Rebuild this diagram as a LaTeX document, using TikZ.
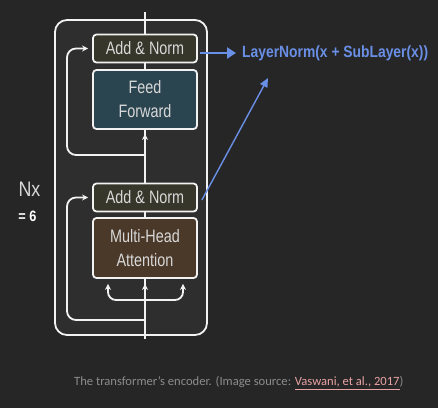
\documentclass[tikz,border=0pt]{standalone}
\usepackage{fontspec}
\usetikzlibrary{calc,arrows.meta}
\newfontfamily\labfont[FakeStretch=0.8]{Liberation Sans}
\newfontfamily\hdfont[FakeStretch=0.85]{Liberation Sans}
\newfontfamily\capfont{Carlito}
\definecolor{bgc}{HTML}{262626}
\definecolor{innerbg}{HTML}{2E2E2E}
\definecolor{wline}{HTML}{F2F2F2}
\definecolor{anfill}{HTML}{36362A}
\definecolor{fffill}{HTML}{2A4450}
\definecolor{mhafill}{HTML}{4A3828}
\definecolor{txtc}{HTML}{D8D8D8}
\definecolor{bluec}{HTML}{6A8FE6}
\definecolor{capgray}{HTML}{8C8C8C}
\definecolor{linkpink}{HTML}{E9A3A3}
\tikzset{
  boxbase/.style={draw=wline, line width=1.8pt, rounded corners=3.5pt, minimum width=104pt, text=txtc, align=center, inner sep=0pt, font=\labfont\fontsize{18}{24}\selectfont},
  anbox/.style={boxbase, fill=anfill, minimum height=28pt},
  ffbox/.style={boxbase, fill=fffill, minimum height=59pt},
  mhabox/.style={boxbase, fill=mhafill, minimum height=60pt},
  wl/.style={draw=wline, line width=1.8pt},
  warr/.style={wl, -{Stealth[length=6pt,width=6pt]}},
  barr/.style={draw=bluec, line width=2.6pt, -{Triangle[length=9pt,width=11pt]}},
  barrthin/.style={draw=bluec, line width=1.4pt, -{Triangle[length=9pt,width=8pt]}},
}
\begin{document}
\begin{tikzpicture}[x=1pt,y=-1pt]
\useasboundingbox (0,0) rectangle (438,408);
\fill[bgc] (0,0) rectangle (438,408);
% outer block
\draw[wl, fill=innerbg, rounded corners=12pt] (55,20) rectangle (207,335);
% main vertical line
\coordinate (vtop) at (145,12);
\coordinate (vbot) at (145,339);
\draw[wl] (vtop) -- (vbot);
% boxes
\node[anbox] (an1) at (145,48.5) {Add \& Norm};
\node[ffbox] (ff) at (145,99.5) {Feed\\Forward};
\node[anbox] (an2) at (145,197.5) {Add \& Norm};
\node[mhabox] (mha) at (145,248) {Multi-Head\\Attention};
% arrow into feed forward
\draw[warr] ($(ff.south)+(0,16)$) -- ($(ff.south)+(0,4)$);
% residual connections
\coordinate (r1s) at (145,155);
\draw[warr, rounded corners=9pt] (r1s) -- (67,155) -- (67,48.5) -- ($(an1.west)+(-4,0)$);
\coordinate (r2s) at (145,320);
\draw[warr, rounded corners=9pt] (r2s) -- (67,320) -- (67,197.5) -- ($(an2.west)+(-4,0)$);
% branch into multi-head attention
\coordinate (br) at (145,300);
\draw[warr, rounded corners=8pt] (br) -- (108,300) -- ($(mha.south)+(-37,5)$);
\draw[warr, rounded corners=8pt] (br) -- (183,300) -- ($(mha.south)+(38,5)$);
\draw[warr] ($(mha.south)+(0,16)$) -- ($(mha.south)+(0,5)$);
% labels left
\node[text=txtc, font=\hdfont\fontsize{21}{21}\selectfont, inner sep=0pt] (nx) at (29.5,189) {Nx};
\node[text=white, font=\hdfont\bfseries\fontsize{15}{15}\selectfont, inner sep=0pt] (eq) at (27.5,216) {= 6};
% formula
\node[anchor=west, text=bluec, font=\hdfont\bfseries\fontsize{16.3}{16.3}\selectfont, inner sep=0pt] (ln) at (242,53) {LayerNorm(x + SubLayer(x))};
\draw[barr] ($(an1.east)+(2,4.5)$) -- ($(ln.west)+(-6,0)$);
\coordinate (bt) at (268,78);
\draw[barrthin] ($(an2.east)+(4,2.5)$) -- (bt);
% caption
\node[anchor=west, text=capgray, font=\capfont\fontsize{12.6}{15}\selectfont, inner sep=0pt] (cap) at (74,383) {The transformer’s encoder. (Image source: {\color{linkpink}\underline{Vaswani, et al., 2017}})};
\end{tikzpicture}
\end{document}
